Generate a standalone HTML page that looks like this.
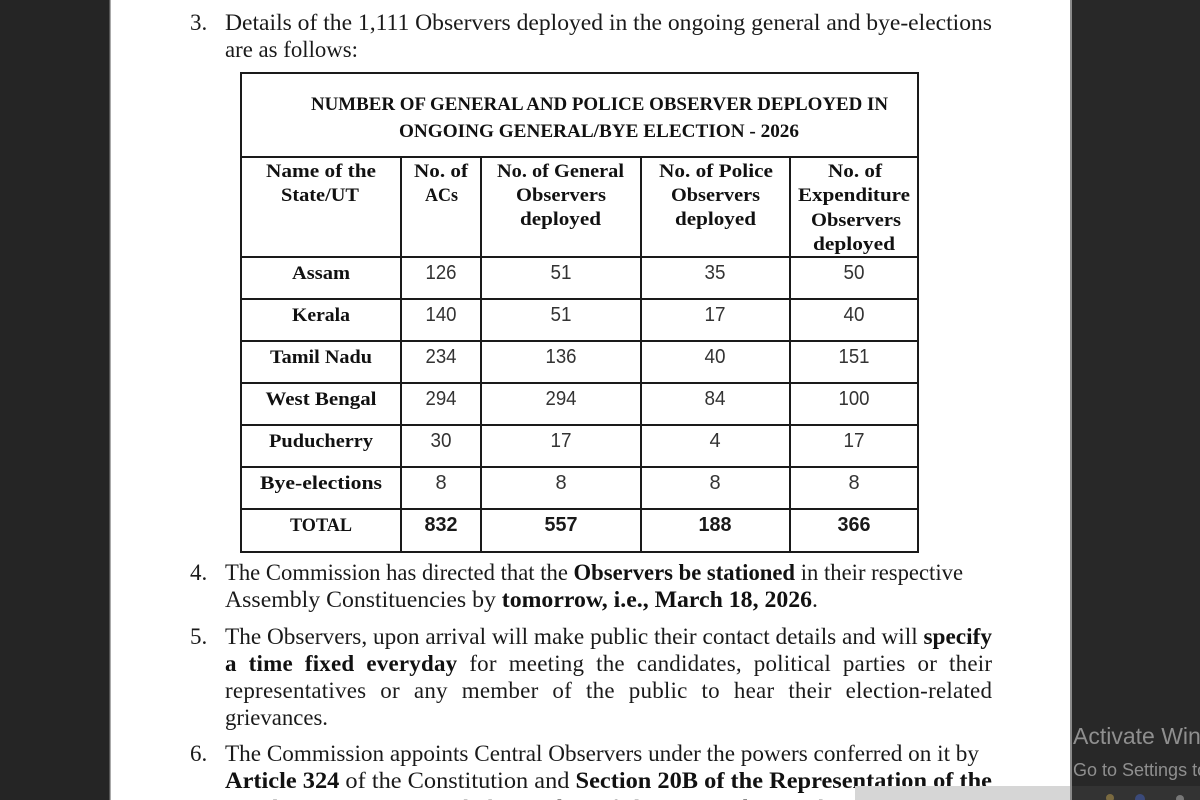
<!DOCTYPE html>
<html>
<head>
<meta charset="utf-8">
<style>
html,body{margin:0;padding:0;background:#fff;}
body{width:1200px;height:800px;overflow:hidden;}
svg{display:block;}
.b{font-family:"Liberation Serif",serif;font-size:23px;fill:#1a1a1a;}
.bb{font-weight:bold;fill:#111;}
.h{font-family:"Liberation Serif",serif;font-weight:bold;font-size:19px;fill:#111;}
.n{font-family:"Liberation Sans",sans-serif;font-size:20px;fill:#333;}
.nb{font-family:"Liberation Sans",sans-serif;font-size:20px;font-weight:bold;fill:#1a1a1a;}
</style>
</head>
<body>
<svg width="1200" height="800" viewBox="0 0 1200 800" xmlns="http://www.w3.org/2000/svg">
  <rect x="0" y="0" width="1200" height="800" fill="#ffffff"/>
  <!-- left dark panel -->
  <rect x="0" y="0" width="110" height="800" fill="#252525"/>
  <rect x="109" y="0" width="1.5" height="800" fill="#555"/>
  <!-- right dark panel -->
  <rect x="1072" y="0" width="128" height="800" fill="#282828"/>
  <rect x="1070" y="0" width="2" height="800" fill="#8a8a8a"/>

  <!-- paragraph 3 -->
  <text class="b" x="190" y="30">3.</text>
  <text class="b" x="225" y="30" textLength="767" lengthAdjust="spacingAndGlyphs">Details of the 1,111 Observers deployed in the ongoing general and bye-elections</text>
  <text class="b" x="225" y="57" textLength="133" lengthAdjust="spacingAndGlyphs">are as follows:</text>

  <!-- table -->
  <g stroke="#1a1a1a" stroke-width="2" fill="none">
    <rect x="241" y="73" width="677" height="479"/>
    <line x1="241" y1="157" x2="918" y2="157"/>
    <line x1="241" y1="257" x2="918" y2="257"/>
    <line x1="241" y1="299" x2="918" y2="299"/>
    <line x1="241" y1="341" x2="918" y2="341"/>
    <line x1="241" y1="383" x2="918" y2="383"/>
    <line x1="241" y1="425" x2="918" y2="425"/>
    <line x1="241" y1="467" x2="918" y2="467"/>
    <line x1="241" y1="509" x2="918" y2="509"/>
    <line x1="401" y1="157" x2="401" y2="552"/>
    <line x1="481" y1="157" x2="481" y2="552"/>
    <line x1="641" y1="157" x2="641" y2="552"/>
    <line x1="790" y1="157" x2="790" y2="552"/>
  </g>

  <!-- title -->
  <text class="h" x="311" y="110" textLength="577" lengthAdjust="spacingAndGlyphs">NUMBER OF GENERAL AND POLICE OBSERVER DEPLOYED IN</text>
  <text class="h" x="399" y="137" textLength="400" lengthAdjust="spacingAndGlyphs">ONGOING GENERAL/BYE ELECTION - 2026</text>

  <!-- headers -->
  <text class="h" x="266" y="177" textLength="110" lengthAdjust="spacingAndGlyphs">Name of the</text>
  <text class="h" x="281" y="201" textLength="78" lengthAdjust="spacingAndGlyphs">State/UT</text>

  <text class="h" x="414" y="177" textLength="54" lengthAdjust="spacingAndGlyphs">No. of</text>
  <text class="h" x="425" y="201" textLength="33" lengthAdjust="spacingAndGlyphs">ACs</text>

  <text class="h" x="497" y="177" textLength="127" lengthAdjust="spacingAndGlyphs">No. of General</text>
  <text class="h" x="516" y="201" textLength="90" lengthAdjust="spacingAndGlyphs">Observers</text>
  <text class="h" x="520" y="225" textLength="81" lengthAdjust="spacingAndGlyphs">deployed</text>

  <text class="h" x="659" y="177" textLength="114" lengthAdjust="spacingAndGlyphs">No. of Police</text>
  <text class="h" x="671" y="201" textLength="89" lengthAdjust="spacingAndGlyphs">Observers</text>
  <text class="h" x="675" y="225" textLength="81" lengthAdjust="spacingAndGlyphs">deployed</text>

  <text class="h" x="828" y="177" textLength="54" lengthAdjust="spacingAndGlyphs">No. of</text>
  <text class="h" x="798" y="201" textLength="112" lengthAdjust="spacingAndGlyphs">Expenditure</text>
  <text class="h" x="811" y="226" textLength="90" lengthAdjust="spacingAndGlyphs">Observers</text>
  <text class="h" x="813" y="250" textLength="82" lengthAdjust="spacingAndGlyphs">deployed</text>

  <!-- rows -->
  <g class="h" text-anchor="middle">
    <text x="321" y="279" textLength="58" lengthAdjust="spacingAndGlyphs">Assam</text>
    <text x="321" y="321" textLength="58" lengthAdjust="spacingAndGlyphs">Kerala</text>
    <text x="321" y="363" textLength="102" lengthAdjust="spacingAndGlyphs">Tamil Nadu</text>
    <text x="321" y="405" textLength="111" lengthAdjust="spacingAndGlyphs">West Bengal</text>
    <text x="321" y="447" textLength="104" lengthAdjust="spacingAndGlyphs">Puducherry</text>
    <text x="321" y="489" textLength="122" lengthAdjust="spacingAndGlyphs">Bye-elections</text>
    <text x="321" y="531" textLength="62" lengthAdjust="spacingAndGlyphs">TOTAL</text>
  </g>
  <g class="n" text-anchor="middle">
    <text x="441" y="279" textLength="31" lengthAdjust="spacingAndGlyphs">126</text><text x="561" y="279" textLength="21" lengthAdjust="spacingAndGlyphs">51</text><text x="715" y="279" textLength="21" lengthAdjust="spacingAndGlyphs">35</text><text x="854" y="279" textLength="21" lengthAdjust="spacingAndGlyphs">50</text>
    <text x="441" y="321" textLength="31" lengthAdjust="spacingAndGlyphs">140</text><text x="561" y="321" textLength="21" lengthAdjust="spacingAndGlyphs">51</text><text x="715" y="321" textLength="21" lengthAdjust="spacingAndGlyphs">17</text><text x="854" y="321" textLength="21" lengthAdjust="spacingAndGlyphs">40</text>
    <text x="441" y="363" textLength="31" lengthAdjust="spacingAndGlyphs">234</text><text x="561" y="363" textLength="31" lengthAdjust="spacingAndGlyphs">136</text><text x="715" y="363" textLength="21" lengthAdjust="spacingAndGlyphs">40</text><text x="854" y="363" textLength="31" lengthAdjust="spacingAndGlyphs">151</text>
    <text x="441" y="405" textLength="31" lengthAdjust="spacingAndGlyphs">294</text><text x="561" y="405" textLength="31" lengthAdjust="spacingAndGlyphs">294</text><text x="715" y="405" textLength="21" lengthAdjust="spacingAndGlyphs">84</text><text x="854" y="405" textLength="31" lengthAdjust="spacingAndGlyphs">100</text>
    <text x="441" y="447" textLength="21" lengthAdjust="spacingAndGlyphs">30</text><text x="561" y="447" textLength="21" lengthAdjust="spacingAndGlyphs">17</text><text x="715" y="447">4</text><text x="854" y="447" textLength="21" lengthAdjust="spacingAndGlyphs">17</text>
    <text x="441" y="489">8</text><text x="561" y="489">8</text><text x="715" y="489">8</text><text x="854" y="489">8</text>
  </g>
  <g class="nb" text-anchor="middle">
    <text x="441" y="531" textLength="33" lengthAdjust="spacingAndGlyphs">832</text><text x="561" y="531" textLength="33" lengthAdjust="spacingAndGlyphs">557</text><text x="715" y="531" textLength="33" lengthAdjust="spacingAndGlyphs">188</text><text x="854" y="531" textLength="33" lengthAdjust="spacingAndGlyphs">366</text>
  </g>

  <!-- paragraph 4 -->
  <text class="b" x="190" y="580">4.</text>
  <text class="b" x="225" y="580" textLength="738" lengthAdjust="spacingAndGlyphs">The Commission has directed that the <tspan class="bb">Observers be stationed</tspan> in their respective</text>
  <text class="b" x="225" y="607" textLength="593" lengthAdjust="spacingAndGlyphs">Assembly Constituencies by <tspan class="bb">tomorrow, i.e., March 18, 2026</tspan>.</text>

  <!-- paragraph 5 -->
  <text class="b" x="190" y="644">5.</text>
  <text class="b" x="225" y="644" textLength="767" lengthAdjust="spacingAndGlyphs">The Observers, upon arrival will make public their contact details and will <tspan class="bb">specify</tspan></text>
  <text class="b" x="225" y="671" textLength="767" lengthAdjust="spacing" word-spacing="6"><tspan class="bb">a time fixed everyday</tspan> for meeting the candidates, political parties or their</text>
  <text class="b" x="225" y="698" textLength="767" lengthAdjust="spacing" word-spacing="8">representatives or any member of the public to hear their election-related</text>
  <text class="b" x="225" y="725" textLength="103" lengthAdjust="spacingAndGlyphs">grievances.</text>

  <!-- paragraph 6 -->
  <text class="b" x="190" y="761">6.</text>
  <text class="b" x="225" y="761" textLength="754" lengthAdjust="spacingAndGlyphs">The Commission appoints Central Observers under the powers conferred on it by</text>
  <text class="b" x="225" y="788" textLength="767" lengthAdjust="spacingAndGlyphs"><tspan class="bb">Article 324</tspan> of the Constitution and <tspan class="bb">Section 20B of the Representation of the</tspan></text>
  <text class="b" x="225" y="816" textLength="767" lengthAdjust="spacingAndGlyphs" fill="#888">People Act, 1951 to watch the conduct of elections and assist the Commission in</text>

  <!-- bottom strip -->
  <rect x="855" y="786" width="215" height="14" fill="#d6d6d6"/>
  <rect x="1072" y="786" width="128" height="14" fill="#333333"/>
  <circle cx="1110" cy="798" r="4" fill="#7a6a40"/>
  <circle cx="1140" cy="799" r="5" fill="#3b4a7a"/>
  <circle cx="1180" cy="799" r="4" fill="#777"/>

  <!-- activate windows watermark -->
  <text x="1073" y="744" font-family="Liberation Sans, DejaVu Sans, sans-serif" font-size="23" fill="#8f8f8f">Activate Windows</text>
  <text x="1073" y="776" font-family="Liberation Sans, DejaVu Sans, sans-serif" font-size="18" fill="#8f8f8f">Go to Settings to activate Windows.</text>
</svg>
</body>
</html>
